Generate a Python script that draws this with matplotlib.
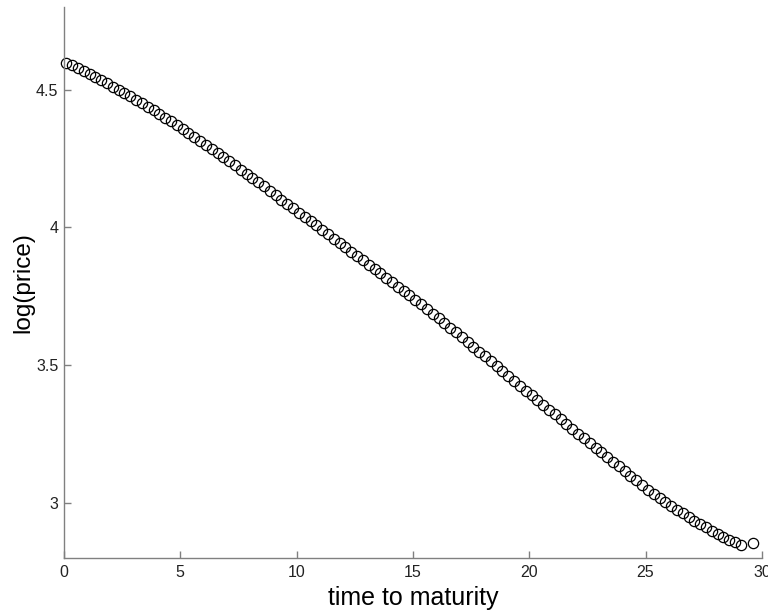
import matplotlib
matplotlib.use("Agg")
import matplotlib.pyplot as plt
import numpy as np

# time to maturity (years) and log(price)
t_main = [0.1 + 0.25 * k for k in range(117)]
logp_main = [
    4.598, 4.588, 4.577, 4.567, 4.556, 4.546, 4.534, 4.523, 4.511, 4.500,
    4.488, 4.476, 4.463, 4.451, 4.438, 4.426, 4.412, 4.399, 4.385, 4.372,
    4.358, 4.344, 4.329, 4.315, 4.300, 4.285, 4.270, 4.255, 4.240, 4.225,
    4.210, 4.195, 4.180, 4.164, 4.149, 4.133, 4.117, 4.101, 4.086, 4.070,
    4.054, 4.038, 4.022, 4.007, 3.991, 3.975, 3.959, 3.944, 3.928, 3.912,
    3.896, 3.880, 3.865, 3.849, 3.833, 3.817, 3.801, 3.785, 3.770, 3.754,
    3.738, 3.721, 3.704, 3.687, 3.670, 3.653, 3.636, 3.619, 3.601, 3.584,
    3.567, 3.549, 3.532, 3.514, 3.497, 3.479, 3.461, 3.443, 3.426, 3.408,
    3.390, 3.373, 3.355, 3.338, 3.321, 3.303, 3.286, 3.269, 3.252, 3.235,
    3.218, 3.201, 3.184, 3.167, 3.150, 3.133, 3.116, 3.099, 3.082, 3.065,
    3.048, 3.033, 3.018, 3.004, 2.990, 2.976, 2.962, 2.949, 2.936, 2.923,
    2.911, 2.899, 2.888, 2.877, 2.867, 2.857, 2.847,
]
t_last = [29.6]
logp_last = [2.855]

x_ticks = [0, 5, 10, 15, 20, 25, 30]
y_ticks = [3, 3.5, 4, 4.5]
y_ticklabels = ["3", "3.5", "4", "4.5"]

plt.rcParams['font.family'] = ['Liberation Sans', 'DejaVu Sans']

fig = plt.figure(figsize=(7.68, 6.11), dpi=100)
ax = fig.add_axes([0.0833, 0.0867, 0.9087, 0.9018])

t_all = t_main + t_last
y_all = logp_main + logp_last
ax.plot(t_all, y_all, linestyle='none', marker='o', markersize=7.4,
        markerfacecolor='none', markeredgecolor='black', markeredgewidth=0.9,
        clip_on=False)

ax.set_xlim(0, 30)
ax.set_ylim(2.8, 4.8)
ax.set_xticks(x_ticks)
ax.set_xticklabels([str(v) for v in x_ticks])
ax.set_yticks(y_ticks)
ax.set_yticklabels(y_ticklabels)

for s in ['top', 'right']:
    ax.spines[s].set_visible(False)
for s in ['left', 'bottom']:
    ax.spines[s].set_color('#808080')
    ax.spines[s].set_linewidth(1.0)

ax.tick_params(direction='in', length=5, width=1.0, color='#808080',
               labelsize=11.5, labelcolor='#222222')
ax.tick_params(axis='x', pad=5)
ax.tick_params(axis='y', pad=4)

ax.set_xlabel('time to maturity', fontsize=18, labelpad=4)
ax.set_ylabel('log(price)', fontsize=17.5, labelpad=1.5)

fig.savefig('out.png', dpi=100)
